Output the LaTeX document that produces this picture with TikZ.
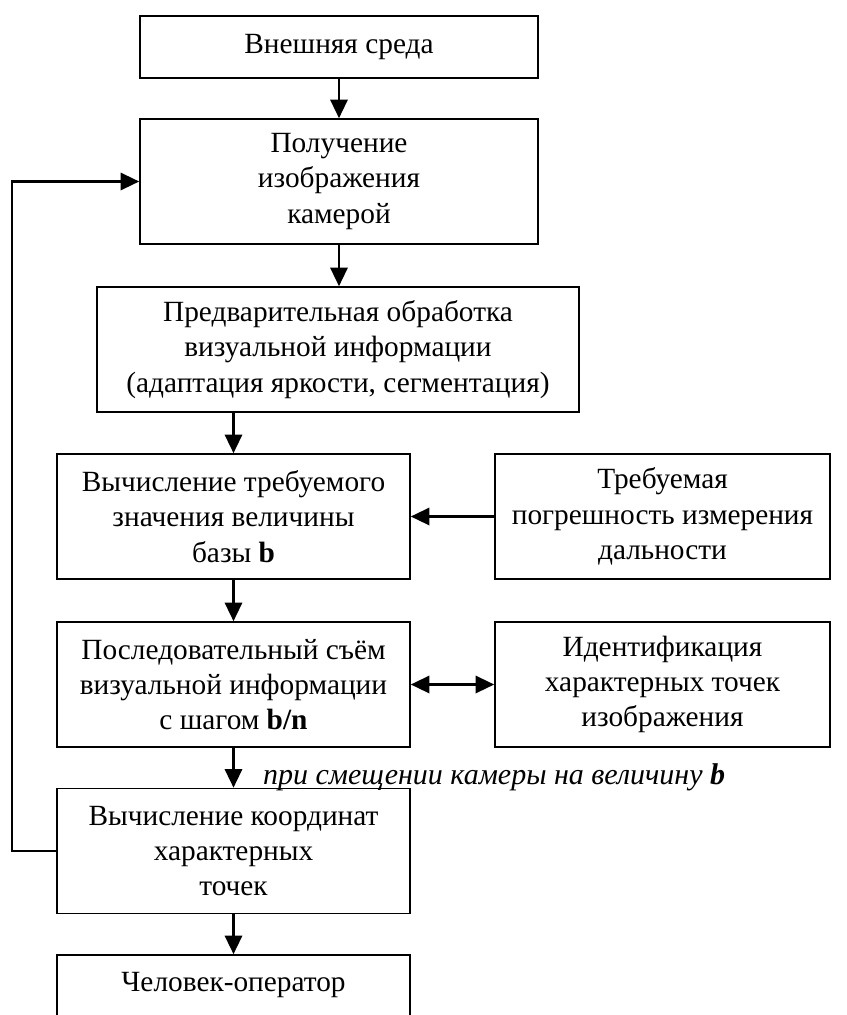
\documentclass[tikz,border=0pt]{standalone}
\usepackage{fontspec}
\setmainfont{Liberation Serif}
\usetikzlibrary{arrows.meta, calc}

\begin{document}
\begin{tikzpicture}[
    x=0.75pt, y=-0.75pt,
    block/.style={draw, rectangle, line width=1.2pt, minimum height=93.75pt, align=center, fill=white, font=\fontsize{22}{26.5}\selectfont},
    flow/.style={-{Triangle[length=14pt, width=13pt]}, line width=1.8pt},
    twoway/.style={{Triangle[length=14pt, width=13pt]}-{Triangle[length=14pt, width=13pt]}, line width=1.8pt},
    note/.style={font=\fontsize{22.5}{26.5}\selectfont\itshape}
]
    \useasboundingbox (0,0) rectangle (847,1015);
    \clip (0,0) rectangle (847,1015);

    % Main chain
    \node[block, minimum width=298.5pt, minimum height=46.5pt] (env) at (339,47) {Внешняя среда};
    \node[block, minimum width=298.5pt] (cam) at (339,181.5) {Получение\\изображения\\камерой};
    \node[block, minimum width=361.5pt] (pre) at (338,349.5) {Предварительная обработка\\визуальной информации\\(адаптация яркости, сегментация)};
    \node[block, minimum width=264.75pt] (base) at (233.5,516.5) {Вычисление требуемого\\значения величины\\базы \textbf{b}};
    \node[block, minimum width=264.75pt] (seq) at (233.5,684.5) {Последовательный съём\\визуальной информации\\с шагом \textbf{b/n}};
    \node[block, minimum width=264.75pt] (coord) at (233.5,851) {Вычисление координат\\характерных\\точек};
    \node[block, minimum width=264.75pt] (oper) at (233.5,1017.5) {Человек-оператор\\~\\~};

    % Side blocks
    \node[block, minimum width=251.25pt] (err) at (662.5,516.5) {Требуемая\\погрешность измерения\\дальности};
    \node[block, minimum width=251.25pt] (ident) at (662.5,684.5) {Идентификация\\характерных точек\\изображения};

    % Connections
    \draw[flow] (env) -- (cam);
    \draw[flow] (cam) -- (cam.south |- pre.north);
    \draw[flow] (pre.south -| base) -- (base);
    \draw[flow] (base) -- (seq);
    \draw[flow] (seq) -- (coord) node[note, pos=0.73, anchor=west, xshift=18pt] {при смещении камеры на величину \textbf{b}};
    \draw[flow] (coord) -- (oper);
    \draw[flow] (err) -- (base);
    \draw[twoway] (seq) -- (ident);

    % Feedback
    \draw[flow] (coord.west) -- ++(-44,0) |- (cam.west);
\end{tikzpicture}
\end{document}
